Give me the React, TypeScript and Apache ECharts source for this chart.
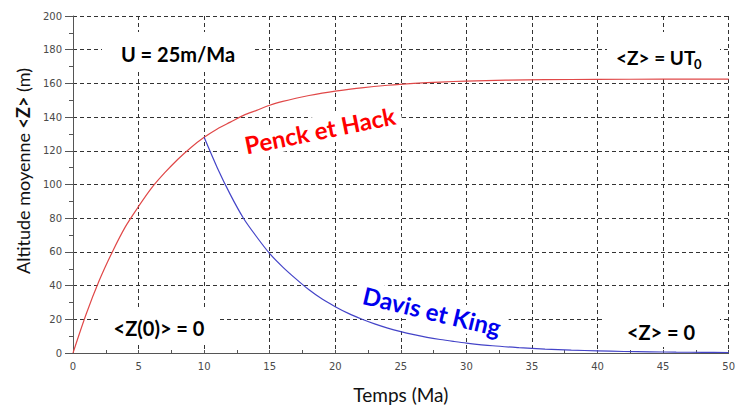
import React, { useEffect, useRef } from "react";
import * as echarts from "echarts";

// Penck et Hack (red) : time (Ma) and mean altitude (m)
const redT = [0, 1, 2, 3, 4, 5, 6, 7, 8, 9, 10, 11, 12, 13, 14, 15, 16, 17, 18, 19, 20, 22, 24, 26, 28, 30, 33, 36, 40, 45, 50];
const redZ = [0, 23, 43, 60, 75, 87, 98, 107, 115, 122, 128, 133, 137, 141, 144, 147, 149.3, 151.2, 152.8, 154.2, 155.4, 157.4, 158.9, 160, 160.8, 161.4, 161.9, 162.2, 162.4, 162.5, 162.5];

// Davis et King (blue)
const blueT = [10, 11, 12, 13, 14, 15, 16, 17, 18, 19, 20, 21, 22, 23, 24, 25, 26, 27, 28, 29, 30, 32, 34, 36, 38, 40, 42, 44, 46, 48, 50];
const blueZ = [128, 110, 94, 80, 69, 59, 51, 44, 37.5, 32, 27.5, 23.5, 20.2, 17.3, 14.8, 12.7, 10.9, 9.3, 8, 6.9, 5.9, 4.3, 3.2, 2.3, 1.7, 1.3, 0.9, 0.7, 0.5, 0.4, 0.3];

const xTitle = "Temps (Ma)";
const yTitleParts = ["Altitude moyenne ", "<Z>", " (m)"];
const annU = "U = 25m/Ma";
const annUT = "<Z> = UT";
const annUTsub = "0";
const annZ0 = "<Z(0)> = 0";
const annZ = "<Z> = 0";
const labelRed = "Penck et Hack";
const labelBlue = "Davis et King";

const FONT = "Lato, 'Open Sans', sans-serif";

export default function App() {
  const ref = useRef<HTMLDivElement>(null);
  useEffect(() => {
    if (!ref.current) return;
    const chart = echarts.init(ref.current, undefined, { renderer: "svg" });
    const grid = { color: "#333", type: [4, 3] as number[], width: 1 };
    chart.setOption({
      animation: false,
      backgroundColor: "#fff",
      grid: { left: 73, right: 1, top: 16, bottom: 54 },
      xAxis: {
        type: "value",
        min: 0,
        max: 50,
        interval: 5,
        axisLine: { show: true, lineStyle: { color: "#555", width: 1 } },
        axisTick: { show: true, inside: true, length: 3, lineStyle: { color: "#555" } },
        minorTick: { show: true, splitNumber: 2, length: 3, lineStyle: { color: "#555" } },
        axisLabel: { color: "#4a4a4a", fontSize: 10, fontFamily: "'DejaVu Sans', sans-serif", margin: 8 },
        splitLine: { show: true, lineStyle: grid },
        name: xTitle,
        nameLocation: "middle",
        nameGap: 32,
        nameTextStyle: { fontFamily: FONT, fontSize: 19, color: "#111" },
      },
      yAxis: {
        type: "value",
        min: 0,
        max: 200,
        interval: 20,
        axisLine: { show: true, lineStyle: { color: "#555", width: 1 } },
        axisTick: { show: true, inside: false, length: 8, lineStyle: { color: "#555" } },
        minorTick: { show: true, splitNumber: 2, length: 4, lineStyle: { color: "#555" } },
        axisLabel: { color: "#4a4a4a", fontSize: 10, fontFamily: "'DejaVu Sans', sans-serif", margin: 11 },
        splitLine: { show: true, lineStyle: grid },
      },
      series: [
        {
          type: "line",
          data: redT.map((t, i) => [t, redZ[i]]),
          smooth: 0.3,
          showSymbol: false,
          lineStyle: { color: "#e04848", width: 1.2 },
          z: 5,
        },
        {
          type: "line",
          data: blueT.map((t, i) => [t, blueZ[i]]),
          smooth: 0.3,
          showSymbol: false,
          lineStyle: { color: "#4444c8", width: 1.2 },
          z: 5,
        },
      ],
      graphic: [
        // y axis title
        {
          type: "text",
          x: 23,
          y: 171,
          rotation: Math.PI / 2,
          z: 100,
          style: {
            text: `{n|${yTitleParts[0]}}{b|${yTitleParts[1]}}{n|${yTitleParts[2]}}`,
            align: "center",
            verticalAlign: "middle",
            rich: {
              n: { fontFamily: FONT, fontSize: 18, fill: "#111" },
              b: { fontFamily: FONT, fontSize: 18, fontWeight: "bold", fill: "#111" },
            },
          },
        },
        // white boxes
        { type: "rect", z: 90, shape: { x: 102, y: 32, width: 150, height: 40 }, style: { fill: "#fff" } },
        { type: "rect", z: 90, shape: { x: 607, y: 32, width: 113, height: 46 }, style: { fill: "#fff" } },
        { type: "rect", z: 90, shape: { x: 100, y: 310, width: 120, height: 35 }, style: { fill: "#fff" } },
        { type: "rect", z: 90, shape: { x: 602, y: 307, width: 118, height: 40 }, style: { fill: "#fff" } },
        {
          type: "text", z: 100, x: 178, y: 54,
          style: { text: annU, font: `bold 20px ${FONT}`, fill: "#000", align: "center", verticalAlign: "middle" },
        },
        {
          type: "text", z: 100, x: 616, y: 57,
          style: { text: annUT, font: `bold 19px ${FONT}`, fill: "#000", align: "left", verticalAlign: "middle" },
        },
        {
          type: "text", z: 100, x: 694, y: 64,
          style: { text: annUTsub, font: `bold 13px ${FONT}`, fill: "#000", align: "left", verticalAlign: "middle" },
        },
        {
          type: "text", z: 100, x: 159, y: 328,
          style: { text: annZ0, font: `bold 20px ${FONT}`, fill: "#000", align: "center", verticalAlign: "middle" },
        },
        {
          type: "text", z: 100, x: 661, y: 332,
          style: { text: annZ, font: `bold 20px ${FONT}`, fill: "#000", align: "center", verticalAlign: "middle" },
        },
        {
          type: "text", z: 100, x: 320, y: 130, rotation: (11.5 * Math.PI) / 180,
          style: {
            text: labelRed, font: `bold 24px ${FONT}`, fill: "#ff0000", align: "center", verticalAlign: "middle",
            backgroundColor: "#fff", padding: [2, 6],
          },
        },
        {
          type: "text", z: 100, x: 432, y: 311, rotation: (-13.5 * Math.PI) / 180,
          style: {
            text: labelBlue, font: `bold 24px ${FONT}`, fill: "#0000ee", align: "center", verticalAlign: "middle",
            backgroundColor: "#fff", padding: [2, 6],
          },
        },
      ],
    });
    return () => chart.dispose();
  }, []);
  return <div ref={ref} style={{ width: 738, height: 409, position: "absolute", left: 0, top: 0 }} />;
}
